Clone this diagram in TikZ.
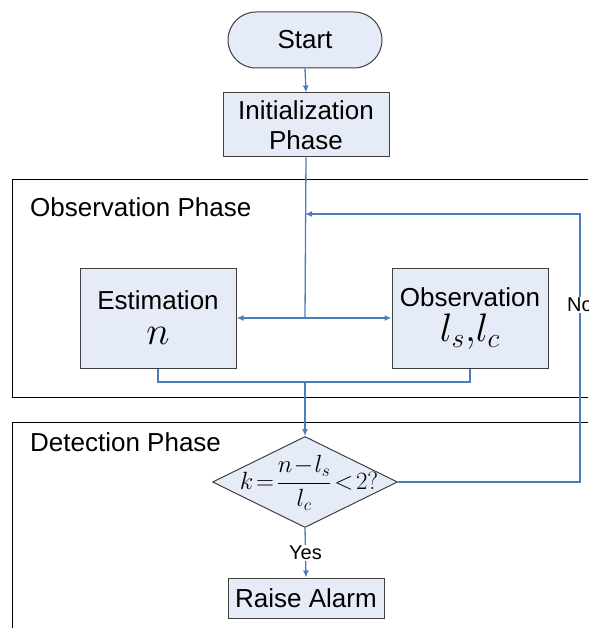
\documentclass[tikz,border=0pt]{standalone}
\usepackage{graphicx}
\usepackage[no-math]{fontspec}
\setmainfont{Liberation Sans}
\usetikzlibrary{shapes.geometric,arrows.meta}
\definecolor{linkblue}{HTML}{4A7EBB}
\definecolor{boxfill}{HTML}{E6ECF7}
\definecolor{boxline}{HTML}{404040}
\tikzset{
  procbox/.style={draw=boxline, line width=1pt, fill=boxfill, align=center,
    font=\fontsize{26}{30}\selectfont, inner sep=0pt},
  frame/.style={draw=black, line width=0.9pt},
  link/.style={draw=linkblue, line width=1.3pt},
  arr/.style={link, -{Latex[length=7pt,width=6pt]}},
  phaselabel/.style={anchor=west, font=\fontsize{26}{30}\selectfont, inner sep=0pt},
  smalllabel/.style={font=\fontsize{20}{24}\selectfont, fill=white, inner sep=1pt}
}
\begin{document}
\begin{tikzpicture}[x=1pt,y=-1pt]
\useasboundingbox (0,0) rectangle (588,628);
\clip (0,0) rectangle (588,628);
\fill[white] (0,0) rectangle (588,628);
% phase frames
\draw[frame] (12,179) rectangle (610,397);
\draw[frame] (12,422) rectangle (610,650);
\node[phaselabel] (obslabel) at (30,207) {Observation Phase};
\node[phaselabel] (detlabel) at (30,442) {Detection Phase};
% nodes
\node[procbox, minimum width=154pt, minimum height=56pt, rounded corners=28pt] (start) at (305,40) {Start};
\node[procbox, minimum width=166pt, minimum height=64pt] (init) at (306,125) {Initialization\\Phase};
\node[procbox, minimum width=156pt, minimum height=100pt] (est) at (158,318) {Estimation\\[5pt]\scalebox{1.6}{$n$}};
\node[procbox, minimum width=156pt, minimum height=100pt] (obs) at (470,318) {Observation\\[5pt]\scalebox{1.6}{$l_s,\!l_c$}};
\node[draw=boxline, line width=1pt, fill=boxfill, diamond, minimum width=185pt, minimum height=91pt, inner sep=0pt] (dec) at (305,482) {};
\node[font=\fontsize{26}{30}\selectfont, inner sep=0pt] (formula) at (309,483) {$\displaystyle k\!=\!\frac{n\!-\!l_s}{l_c}\!<\!2?$};
\node[procbox, minimum width=156pt, minimum height=40pt] (alarm) at (306,598) {Raise Alarm};
% coordinates
\coordinate (split) at (305,318);
\coordinate (merge) at (305,382);
\coordinate (loopin) at (305,214);
\coordinate (loopcorner) at (580,482);
% connectors
\draw[arr] (start.south) -- (init.north);
\draw[link] (init.south) -- (split);
\draw[arr] (split) -- (est.east);
\draw[arr] (split) -- (obs.west);
\draw[link] (est.south) |- (merge) -| (obs.south);
\draw[arr] (merge) -- (dec.north);
\draw[arr] (dec.east) -- (loopcorner) |- (loopin)
  node[pos=0.33, smalllabel] (nolabel) {No};
\draw[arr] (dec.south) -- (alarm.north)
  node[midway, smalllabel] (yeslabel) {Yes};
\end{tikzpicture}
\end{document}
